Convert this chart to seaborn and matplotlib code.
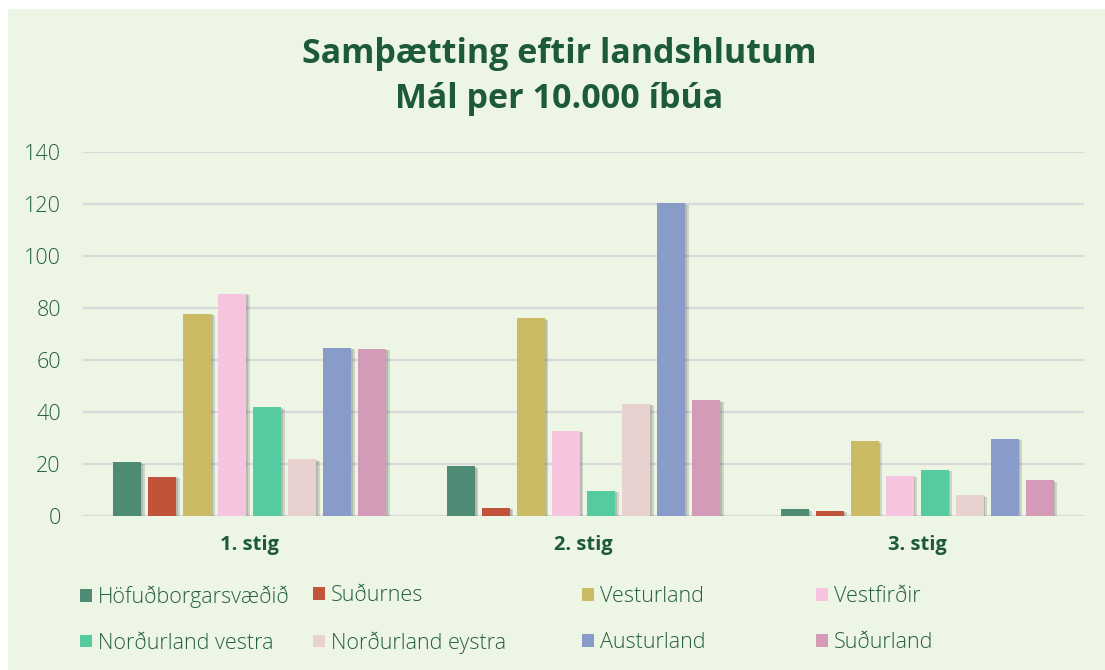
import matplotlib
matplotlib.use("Agg")
import matplotlib.pyplot as plt
import matplotlib.patheffects as pe
from matplotlib.patches import Rectangle
import seaborn as sns
import pandas as pd

categories = ["1. stig", "2. stig", "3. stig"]
regions = ["Höfuðborgarsvæðið", "Suðurnes", "Vesturland", "Vestfirðir",
           "Norðurland vestra", "Norðurland eystra", "Austurland", "Suðurland"]
hofudborgarsvaedid = [20.5, 19.1, 2.4]
sudurnes = [15.0, 3.0, 1.8]
vesturland = [77.8, 76.0, 28.7]
vestfirdir = [85.5, 32.6, 15.4]
nordurland_vestra = [41.7, 9.5, 17.6]
nordurland_eystra = [21.7, 43.0, 7.8]
austurland = [64.6, 120.3, 29.6]
sudurland = [64.2, 44.4, 13.6]
colors = ["#4E8A74", "#C0533A", "#CBBB65", "#F6C4DF",
          "#56CBA0", "#E8D2D0", "#899BC9", "#D49BB8"]
yticks = [0, 20, 40, 60, 80, 100, 120, 140]

series = [hofudborgarsvaedid, sudurnes, vesturland, vestfirdir,
          nordurland_vestra, nordurland_eystra, austurland, sudurland]
rows = []
for reg, vals in zip(regions, series):
    for cat, v in zip(categories, vals):
        rows.append({"stig": cat, "region": reg, "value": v})
df = pd.DataFrame(rows)

sns.set_theme(style="white")
plt.rcParams["font.family"] = ["Open Sans", "DejaVu Sans"]

W, H = 1105, 670
fig = plt.figure(figsize=(W / 100, H / 100), dpi=100, facecolor="white")
fig.patches.append(Rectangle((8 / W, 0), 1, (H - 9) / H, transform=fig.transFigure,
                             facecolor="#EDF5E5", edgecolor="none", zorder=-10))

ax = fig.add_axes([83 / W, 1 - 515.7 / H, (1084 - 83) / W, (515.7 - 152.3) / H])
ax.set_facecolor("none")

sns.barplot(data=df, x="stig", y="value", hue="region", order=categories,
            hue_order=regions, palette=colors, saturation=1, width=0.84, gap=0.2,
            errorbar=None, ax=ax, zorder=3, edgecolor="none")

handles, labels = ax.get_legend_handles_labels()
if ax.get_legend() is not None:
    ax.get_legend().remove()

for p in ax.patches:
    p.set_path_effects([pe.SimplePatchShadow(offset=(2.5, -1), shadow_rgbFace="black", alpha=0.13),
                        pe.SimplePatchShadow(offset=(1.2, -0.5), shadow_rgbFace="black", alpha=0.12),
                        pe.Normal()])

ax.set_ylim(0, 140)
ax.set_yticks(yticks)
ax.set_xlim(-0.5, 2.5)
ax.yaxis.grid(True, color="#D9D9D9", linewidth=1.6, zorder=0)
ax.set_axisbelow(True)
for s in ax.spines.values():
    s.set_visible(False)
ax.set_xlabel("")
ax.set_ylabel("")
ax.tick_params(axis="y", length=0, pad=16, labelsize=15.5, labelcolor="#25603F")
ax.tick_params(axis="x", length=0, pad=14, labelsize=14.5, labelcolor="#1D5A3C")
for t in ax.get_yticklabels():
    t.set_fontweight("light")
for t in ax.get_xticklabels():
    t.set_fontweight("bold")

title_color = "#1D5A3C"
fig.text(559 / W, 1 - 63 / H, "Samþætting eftir landshlutum", ha="center", va="baseline",
         fontsize=24.5, fontweight="bold", color=title_color)
fig.text(559 / W, 1 - 108 / H, "Mál per 10.000 íbúa", ha="center", va="baseline",
         fontsize=24.5, fontweight="bold", color=title_color)

col_x = [80, 313, 582, 816]
hmap = dict(zip(labels, handles))
for i, x in enumerate(col_x):
    names = [regions[i], regions[i + 4]]
    leg = fig.legend([hmap[n] for n in names], names, loc="center left",
                     bbox_to_anchor=(x / W, 1 - 619.5 / H), frameon=False, borderpad=0,
                     borderaxespad=0, handlelength=0.55, handleheight=0.55,
                     handletextpad=0.3, labelspacing=1.15, fontsize=15.5)
    for hnd in leg.legend_handles:
        hnd.set_path_effects([])
    for t in leg.get_texts():
        t.set_color("#25603F")
        t.set_fontweight("light")

fig.savefig("out.png", dpi=100, facecolor="white")
